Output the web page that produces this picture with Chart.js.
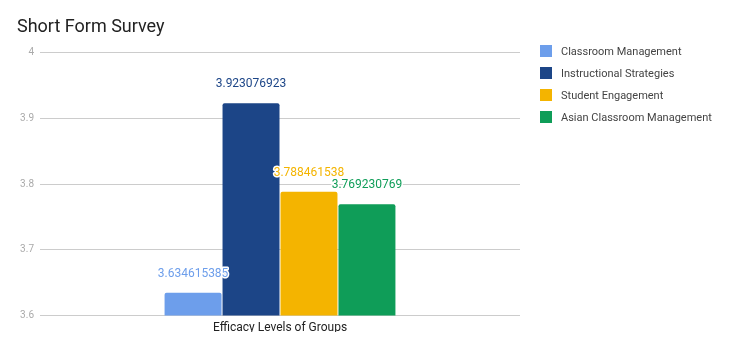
<!DOCTYPE html>
<html>
<head>
<meta charset="utf-8">
<script src="https://cdn.jsdelivr.net/npm/chart.js@4"></script>
<style>
  html, body { margin: 0; padding: 0; background: #fff; }
  #wrap { width: 729px; height: 351px; position: relative; }
  #legenda { position: absolute; left: 540px; top: 45px; margin: 0; padding: 0; list-style: none;
             font: 11px Roboto, sans-serif; color: #444; }
  #legenda li { height: 22px; display: flex; align-items: center; white-space: nowrap; margin-top: -5px; margin-bottom: 5px; }
  #legenda .caixa { width: 12px; height: 12px; margin-right: 9px; flex: none; }
</style>
</head>
<body>
<div id="wrap"><canvas id="grafico"></canvas><ul id="legenda"></ul></div>
<script>
// --- DADOS ---
const categorias = ['Efficacy Levels of Groups'];
const series = ['Classroom Management', 'Instructional Strategies', 'Student Engagement', 'Asian Classroom Management'];
const valores = [3.634615385, 3.923076923, 3.788461538, 3.769230769];
const cores = ['#6d9eeb', '#1c4587', '#f4b400', '#0f9d58'];
const ticksY = [3.6, 3.7, 3.8, 3.9, 4];

// rótulos de valor acima das barras
const rotulosPlugin = {
    id: 'rotulos',
    afterDatasetsDraw(chart) {
        const ctx = chart.ctx;
        ctx.save();
        ctx.font = '12px Roboto';
        ctx.textAlign = 'center';
        ctx.textBaseline = 'middle';
        ctx.lineJoin = 'round';
        chart.data.datasets.forEach((ds, i) => {
            const meta = chart.getDatasetMeta(i);
            meta.data.forEach((bar, j) => {
                const txt = String(ds.data[j]);
                ctx.lineWidth = 3;
                ctx.strokeStyle = '#fff';
                ctx.strokeText(txt, bar.x, bar.y - 19);
                ctx.fillStyle = ds.backgroundColor;
                ctx.fillText(txt, bar.x, bar.y - 19);
            });
        });
        ctx.restore();
    }
};

const ctx = document.getElementById('grafico').getContext('2d');
const grafico = new Chart(ctx, {
    type: 'bar',
    data: {
        labels: categorias,
        datasets: series.map((nome, i) => ({
            label: nome,
            data: [valores[i]],
            backgroundColor: cores[i],
            borderRadius: { topLeft: 2, topRight: 2 },
            borderSkipped: 'bottom',
            categoryPercentage: 0.483,
            barPercentage: 0.983
        }))
    },
    options: {
        responsive: true,
        maintainAspectRatio: false,
        animation: false,
        layout: { padding: { left: 17, right: 209, top: 0, bottom: 19 } },
        scales: {
            x: {
                grid: { display: false },
                border: { display: false },
                ticks: { color: '#222', font: { family: 'Roboto', size: 12 }, padding: -3 }
            },
            y: {
                min: 3.6,
                max: 4,
                afterBuildTicks: s => { s.ticks = ticksY.map(v => ({ value: v })); },
                afterFit: s => { s.width = 23; },
                grid: { color: '#cccccc', drawTicks: false },
                border: { display: false },
                ticks: {
                    color: '#aaaaaa',
                    font: { family: 'Roboto', size: 10 },
                    padding: 6,
                    callback: v => String(+Number(v).toFixed(1))
                }
            }
        },
        plugins: {
            title: {
                display: true,
                text: 'Short Form Survey',
                align: 'start',
                color: '#222',
                font: { family: 'Roboto', size: 18, weight: 'normal' },
                padding: { top: 17, bottom: 14 }
            },
            legend: { display: false },
            tooltip: { enabled: false }
        }
    },
    plugins: [rotulosPlugin]
});

// legenda em HTML a partir dos datasets
const legenda = document.getElementById('legenda');
grafico.data.datasets.forEach(ds => {
    const li = document.createElement('li');
    li.innerHTML = `<span class="caixa" style="background:${ds.backgroundColor}"></span><span>${ds.label}</span>`;
    legenda.appendChild(li);
});
</script>
</body>
</html>
